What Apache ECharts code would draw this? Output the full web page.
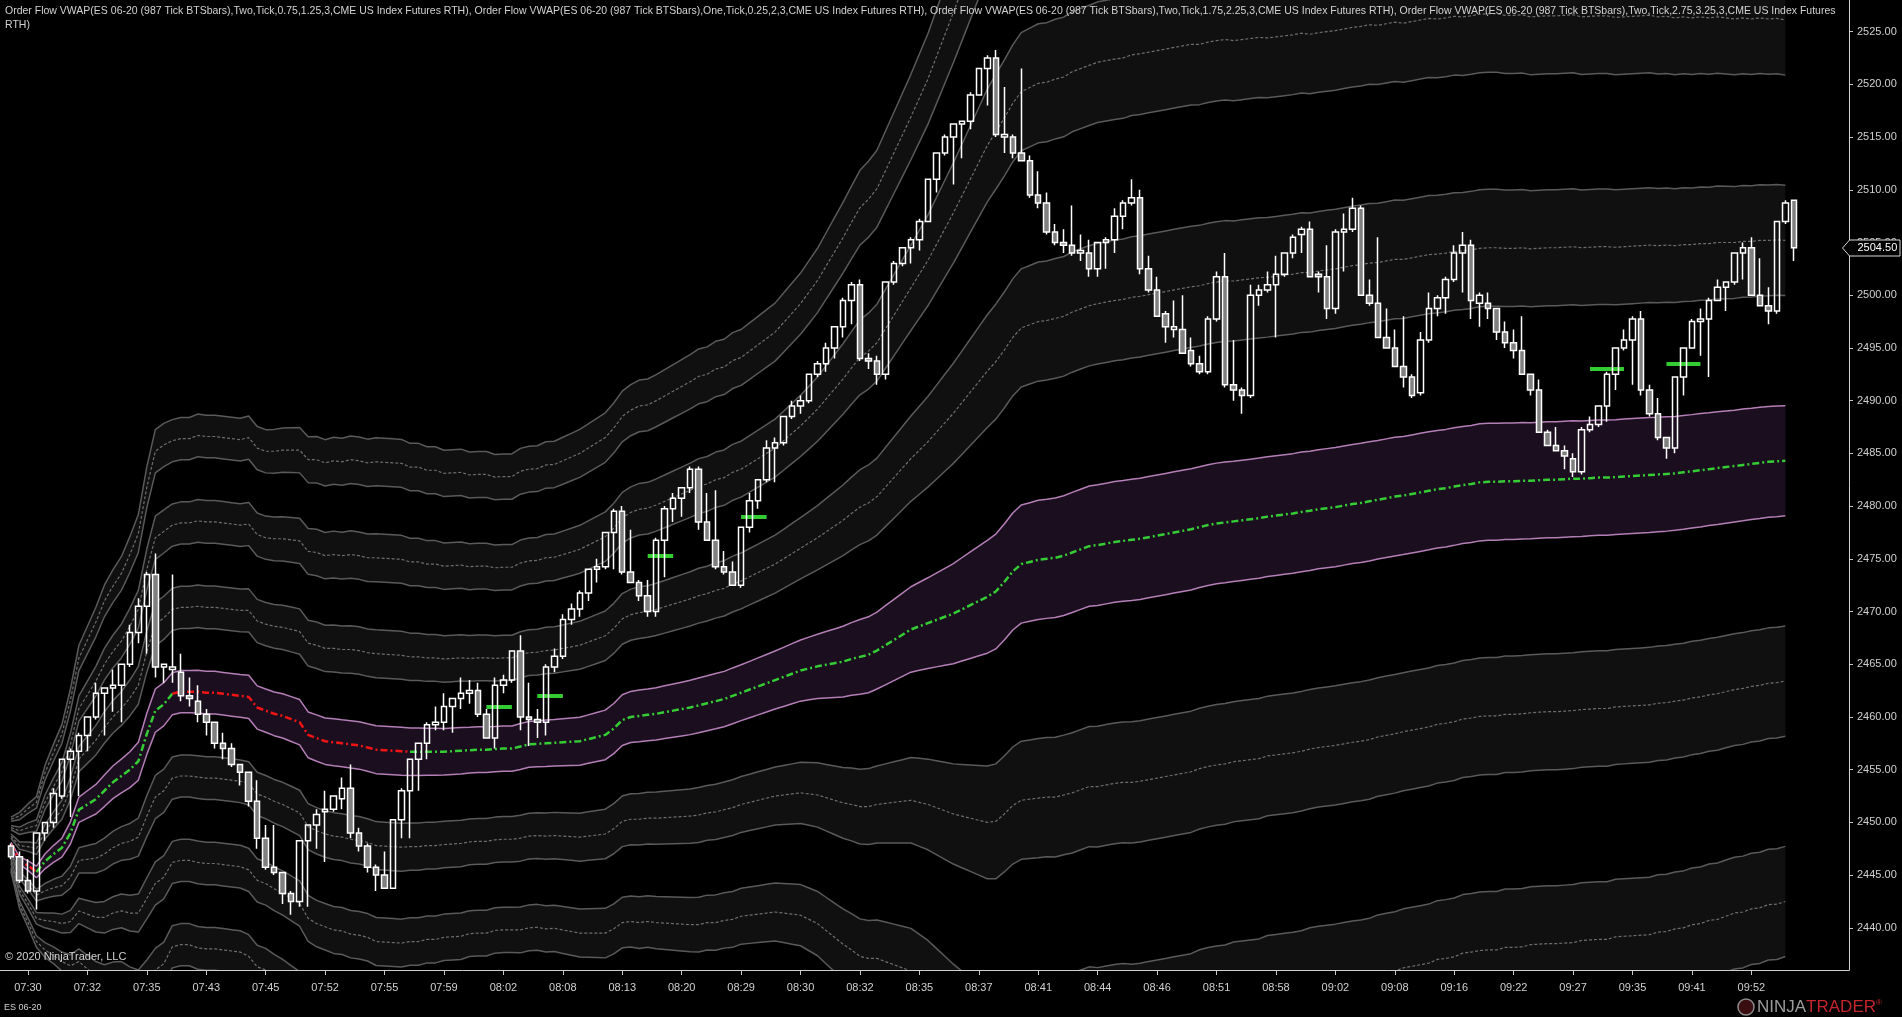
<!DOCTYPE html>
<html>
<head>
<meta charset="utf-8">
<title>ES 06-20 Order Flow VWAP</title>
<script src="https://cdn.jsdelivr.net/npm/echarts@6/dist/echarts.min.js"></script>
<style>
html,body{margin:0;padding:0;background:#000;overflow:hidden;}
#chart{width:1902px;height:1017px;}
</style>
</head>
<body>
<div id="chart"></div>
<script>
// ---------------- data ----------------
const timeLabels = ['07:30','07:32','07:35','07:43','07:45','07:52','07:55','07:59','08:02','08:08','08:13','08:20','08:29','08:30','08:32','08:35','08:37','08:41','08:44','08:46','08:51','08:58','09:02','09:08','09:16','09:22','09:27','09:35','09:41','09:52'];
const firstLabelBar = 2;
const barsPerLabel = 7;
const emptySlotsRight = 6;

const priceTicks = [2440,2445,2450,2455,2460,2465,2470,2475,2480,2485,2490,2495,2500,2505,2510,2515,2520,2525];
const priceMin = 2436;
const priceMax = 2528;

const opens = [
2447.75,2446.75,2444.5,2443.5,2449,2450,2452.5,2456,2456.75,2458.25,
2460,2462.25,2462.75,2463,2465,2468,2470.5,2473.5,2464.75,2464.5,
2464.25,2462,2461.5,2460.25,2459.5,2457.5,2457,2455.5,2454.75,2452,
2448.5,2445.75,2445.25,2443.25,2442.5,2448.25,2449.75,2451,2451.25,2452.25,
2453.25,2449,2447.75,2445.75,2445,2443.75,2450.25,2453,2456,2457.5,
2459.25,2459.5,2461,2461.75,2462.25,2462.5,2460.25,2458,2463,2463.5,
2466.25,2460,2459.75,2459.5,2464.75,2465.75,2469.25,2470.25,2471.75,2474,
2474.25,2477.5,2479.5,2473.75,2472.75,2471.5,2470,2476.75,2479.75,2480.75,
2481.75,2483.5,2478.5,2476.75,2474.25,2473.75,2472.5,2478,2480.5,2482.5,
2485.5,2486,2488.5,2489.5,2490,2492.5,2493.5,2495,2497,2499.5,
2501,2494,2493.75,2492.5,2501.25,2503,2504.5,2505.25,2507,2511,
2513.5,2515,2516.25,2516.5,2519,2521.5,2522.5,2515,2515,2513.5,
2512.75,2509.5,2508.75,2506,2505,2504.75,2504,2504,2502.5,2505,
2505.25,2507.5,2508.75,2509.25,2502.5,2500.5,2498.25,2496.75,2496.75,2494.75,
2493.5,2492.75,2497.75,2501.75,2491.5,2491,2490.5,2500,2500.5,2501,
2502,2504,2505.75,2506.25,2502,2501.75,2498.75,2506,2506.25,2508.25,
2500,2499.25,2496,2495,2493.25,2492.25,2490.75,2495.75,2498.75,2499.75,
2501.5,2504,2504.75,2499.25,2499.25,2498.75,2496.5,2495.5,2494.75,2492.5,
2491,2487,2485.75,2485.25,2484.5,2483.25,2487.25,2487.75,2489.5,2492.5,
2495,2495.75,2497.75,2491,2488.75,2486.5,2485.5,2492.25,2495,2497.5,
2497.75,2499.5,2500.75,2501.25,2504,2504.5,2500,2499,2498.5,2507,
2509];
const highs = [
2448,2447.25,2446.5,2449,2450,2453.25,2456,2457,2458.5,2460,
2463.25,2462.75,2464.5,2465,2468.75,2471.25,2473.75,2475.5,2465,2473.5,
2466,2463.75,2463,2460.75,2459.5,2458.5,2457.5,2455.5,2454.75,2454,
2449.75,2449.75,2445.25,2443.5,2448.25,2449.75,2451.25,2453,2452.5,2454.25,
2455.5,2449.5,2448,2446,2447.25,2450.25,2453.25,2456,2457.5,2459.5,
2461,2462.25,2461.75,2463.75,2463.5,2463.25,2460.75,2463.75,2464,2466.25,
2467.75,2463.25,2460.75,2465,2466.5,2469.75,2470.75,2472,2474,2475,
2477.5,2479.75,2480,2477.75,2473,2473,2477,2480,2481.25,2481.75,
2483.75,2483.75,2481.25,2481.5,2475.75,2474.75,2478,2481.25,2482.5,2486.25,
2486.5,2488.5,2490,2490.5,2492.5,2493.75,2495.5,2497,2499.75,2501.25,
2501.5,2494.5,2494.25,2501.25,2503.25,2504.5,2505.5,2507.25,2511,2513.5,
2515.25,2516.25,2516.5,2519.25,2521.5,2522.75,2523.25,2519.75,2515.25,2521.5,
2513.25,2511.75,2509.75,2506.75,2506.25,2508.5,2505.75,2505.25,2505,2505.5,
2508.25,2509,2511,2510,2503.75,2501.75,2498.5,2499.5,2500,2496,
2494.25,2498,2502.25,2504,2495.75,2491.25,2501,2501,2502.25,2503.75,
2504,2505.75,2506.5,2507,2502.25,2504.75,2506.25,2507.75,2509.25,2508.5,
2501.5,2505.5,2498.75,2496.75,2498,2492.5,2496.5,2500.25,2500,2501.75,
2504.75,2506,2505.25,2500.25,2500.25,2498.75,2497.5,2496.75,2498,2492.5,
2492,2487.25,2487.5,2485.75,2485,2487.5,2488.5,2489.5,2492.75,2495,
2496.75,2498,2498.5,2491.5,2490.25,2486.5,2492.25,2495,2497.75,2498.75,
2499.75,2501.5,2501.25,2504,2505,2505.5,2503.5,2500.75,2507,2509,
2509];
const lows = [
2446.5,2444.25,2443.25,2441.75,2448.25,2449.5,2452.25,2450.5,2452.5,2456.75,
2459.75,2458.25,2460.5,2459.5,2464.75,2467,2466,2463.75,2463.25,2463.25,
2461.5,2461,2459.5,2458.25,2457,2456,2455.25,2453.5,2451.5,2447.5,
2445.5,2445,2442.25,2441.25,2442,2442,2447.5,2446.25,2451,2451.25,
2448.5,2447.25,2445.25,2443.5,2443.75,2443.75,2448.5,2448.5,2453,2456,
2458.75,2458.75,2458.5,2460.75,2461.25,2460,2458,2457,2462.25,2463.25,
2458.75,2457.25,2458,2458.25,2464.25,2465.5,2468.75,2469.5,2471,2472.75,
2474,2474,2473.5,2472.75,2471,2469.5,2469.5,2473.25,2478.5,2479,
2481.25,2477.75,2476.75,2474,2473.5,2472.5,2472.25,2477.5,2479.75,2482.25,
2482.25,2485.75,2488.25,2488.75,2489.75,2492.25,2492.75,2494,2496,2497.25,
2493.75,2493,2491.5,2492,2501,2502.75,2503,2504.25,2507,2509.75,
2513.25,2510.5,2513,2515.75,2519,2518,2515,2513.5,2513,2512.75,
2509.25,2508.25,2505.75,2504.75,2504,2503.75,2503.25,2501.75,2501.75,2502.5,
2504,2506.25,2508.5,2502,2500.25,2498,2495.5,2496,2494.5,2493.25,
2492.5,2492.5,2497.5,2491.25,2490,2488.75,2490.25,2499,2500.25,2496,
2501.75,2503.5,2504,2501.75,2500.25,2497.75,2498.25,2502.25,2506,2500,
2499,2496,2495,2493.25,2491.25,2490.25,2490.5,2495.5,2498,2498.25,
2501.25,2500.25,2497.75,2497,2497.75,2495.75,2495,2494,2492.5,2490.5,
2487,2485.75,2485.25,2483.5,2482.75,2483,2487,2487.5,2488,2491,
2494.75,2491.5,2490.5,2488.5,2486.25,2484.5,2485,2490.5,2495,2494.25,
2492.25,2499.5,2498.5,2501,2501.5,2500,2499,2497.25,2498.25,2506.75,
2503.25];
const closes = [
2446.75,2444.5,2443.5,2449,2450,2452.75,2456,2456.75,2458.25,2460,
2462.25,2462.75,2463,2465,2468,2470.5,2473.5,2464.75,2465,2464.75,
2462,2461.75,2460.25,2459.5,2457.5,2457,2455.5,2454.75,2452,2448.5,
2445.75,2445.25,2443.25,2442.5,2448.25,2449.75,2450.75,2451.25,2452.5,2453.25,
2449,2447.75,2445.75,2445,2443.75,2450.25,2453,2456,2457.5,2459.25,
2459.5,2461,2461.75,2462.25,2462.5,2460.25,2458,2463,2463.5,2466.25,
2460,2459.75,2459.5,2464.75,2465.75,2469.25,2470.25,2471.75,2474,2474.25,
2477.5,2479.5,2473.75,2472.75,2471.5,2470,2476.75,2479.75,2480.75,2481.75,
2483.5,2478.5,2476.75,2474.25,2473.75,2472.5,2478,2480.5,2482.5,2485.5,
2486,2488.5,2489.5,2490,2492.5,2493.5,2495,2497,2499.5,2501,
2494,2493.75,2492.5,2501.25,2503,2504.5,2505.25,2507,2511,2513.5,
2515,2516.25,2516.5,2519,2521.5,2522.5,2515.25,2515.25,2513.5,2512.75,
2509.5,2508.75,2506,2505,2504.75,2504,2504.25,2502.5,2505,2505.25,
2507.5,2508.75,2509.25,2502.5,2500.5,2498,2497,2497,2494.5,2493.5,
2492.75,2497.75,2501.75,2491.5,2491,2490.5,2500,2500.5,2501,2502,
2504,2505.5,2506.25,2501.75,2501.75,2498.75,2506,2506.25,2508.25,2500,
2499.25,2496,2495,2493.25,2492.25,2490.5,2495.75,2498.75,2499.75,2501.5,
2504,2504.75,2499.5,2500,2498.75,2496.5,2495.5,2494.75,2492.5,2491,
2487,2485.75,2485.25,2484.75,2483.25,2487.25,2487.75,2489.5,2492.5,2495,
2495.75,2497.75,2491,2488.75,2486.5,2485.5,2492.25,2495,2497.5,2497.75,
2499.5,2500.75,2501.25,2504,2504.5,2500,2499,2498.5,2507,2508.75,
2504.5];

const vwap = [
2447.9,2446.4,2445.9,2445.3,2446.3,2447.0,2447.6,2449.0,2451.2,2451.7,
2452.2,2453.0,2453.8,2454.4,2455.0,2455.8,2458.4,2460.6,2461.2,2462.2,
2462.4,2462.4,2462.4,2462.3,2462.3,2462.2,2462.1,2462.0,2461.9,2460.9,
2460.6,2460.3,2460.1,2459.8,2459.5,2458.3,2458.0,2457.7,2457.6,2457.5,
2457.4,2457.3,2457.1,2456.9,2456.85,2456.8,2456.75,2456.7,2456.7,2456.7,
2456.7,2456.7,2456.75,2456.8,2456.85,2456.9,2456.9,2456.95,2457.0,2457.0,
2457.2,2457.4,2457.45,2457.5,2457.55,2457.6,2457.65,2457.7,2457.9,2458.1,
2458.3,2458.9,2459.7,2460.0,2460.1,2460.2,2460.3,2460.45,2460.6,2460.75,
2460.9,2461.1,2461.3,2461.5,2461.7,2462.0,2462.3,2462.6,2462.9,2463.2,
2463.5,2463.8,2464.1,2464.4,2464.6,2464.8,2464.95,2465.1,2465.25,2465.5,
2465.7,2465.9,2466.3,2466.8,2467.3,2467.8,2468.3,2468.6,2468.9,2469.2,
2469.5,2469.8,2470.2,2470.6,2471.0,2471.4,2471.9,2472.8,2473.8,2474.5,
2474.7,2474.9,2475.0,2475.1,2475.3,2475.6,2475.9,2476.2,2476.3,2476.45,
2476.6,2476.7,2476.8,2476.9,2477.05,2477.2,2477.35,2477.5,2477.65,2477.8,
2478.0,2478.2,2478.35,2478.45,2478.55,2478.65,2478.75,2478.85,2479.0,2479.1,
2479.2,2479.3,2479.45,2479.55,2479.7,2479.8,2479.9,2480.05,2480.2,2480.3,
2480.45,2480.6,2480.75,2480.9,2481.0,2481.15,2481.3,2481.45,2481.6,2481.7,
2481.85,2482.0,2482.1,2482.25,2482.3,2482.3,2482.35,2482.35,2482.4,2482.4,
2482.45,2482.5,2482.5,2482.55,2482.6,2482.6,2482.65,2482.7,2482.7,2482.75,
2482.8,2482.85,2482.9,2482.95,2483.0,2483.05,2483.1,2483.2,2483.3,2483.4,
2483.5,2483.6,2483.7,2483.8,2483.9,2484.0,2484.1,2484.2,2484.25,2484.3];
const sigma = [
0.4,0.7,0.9,1.1,1.4,1.6,1.8,2.1,2.4,2.6,
2.8,3.0,3.1,3.2,3.4,3.6,3.9,4.1,4.1,4.0,
4.0,4.0,4.05,4.05,4.05,4.05,4.05,4.05,4.1,4.1,
4.1,4.15,4.2,4.25,4.3,4.35,4.4,4.4,4.45,4.45,
4.5,4.5,4.5,4.55,4.55,4.55,4.55,4.5,4.5,4.45,
4.45,4.4,4.4,4.4,4.35,4.35,4.35,4.3,4.3,4.3,
4.35,4.35,4.35,4.4,4.4,4.45,4.5,4.55,4.6,4.65,
4.7,4.75,4.8,4.85,4.9,4.9,4.95,5.0,5.05,5.1,
5.15,5.2,5.2,5.25,5.25,5.3,5.3,5.35,5.4,5.45,
5.5,5.6,5.7,5.8,5.95,6.1,6.3,6.5,6.7,6.9,
7.1,7.2,7.3,7.5,7.7,7.9,8.1,8.35,8.6,8.9,
9.2,9.5,9.8,10.1,10.4,10.7,10.9,11.0,11.1,11.2,
11.25,11.3,11.3,11.35,11.35,11.4,11.4,11.4,11.45,11.45,
11.45,11.45,11.5,11.5,11.5,11.5,11.5,11.5,11.5,11.5,
11.45,11.45,11.45,11.45,11.4,11.4,11.4,11.4,11.35,11.35,
11.35,11.35,11.35,11.3,11.3,11.3,11.3,11.3,11.3,11.3,
11.3,11.25,11.25,11.25,11.2,11.2,11.2,11.2,11.15,11.15,
11.15,11.1,11.1,11.1,11.1,11.1,11.05,11.05,11.05,11.0,
11.0,11.0,11.0,11.0,11.0,10.95,10.95,10.95,10.95,10.9,
10.9,10.9,10.9,10.9,10.85,10.85,10.8,10.8,10.75,10.75,
10.7,10.7,10.65,10.6,10.6,10.55,10.55,10.5,10.5,10.45];

// bar ranges where the VWAP line is drawn red (falling)
const vwapFallingRanges = [[0, 3], [19, 47]];
// band multipliers of the indicators
const innerBand = 0.5;
const grayBands = [[1.5, 2, 2.5], [3.5, 4, 4.5], [5.5, 6, 6.5]];

// short green level markers: first bar, last bar, price
const markerFirstBar = [56, 62, 75, 86, 186, 195];
const markerLastBar  = [59, 65, 78, 89, 190, 199];
const markerPrice    = [2461.0, 2462.0, 2475.25, 2479.0, 2493.0, 2493.5];

const headerLine1 = 'Order Flow VWAP(ES 06-20 (987 Tick BTSbars),Two,Tick,0.75,1.25,3,CME US Index Futures RTH), Order Flow VWAP(ES 06-20 (987 Tick BTSbars),One,Tick,0.25,2,3,CME US Index Futures RTH), Order Flow VWAP(ES 06-20 (987 Tick BTSbars),Two,Tick,1.75,2.25,3,CME US Index Futures RTH), Order Flow VWAP(ES 06-20 (987 Tick BTSbars),Two,Tick,2.75,3.25,3,CME US Index Futures';
const headerLine2 = 'RTH)';
const copyrightText = '\u00A9 2020 NinjaTrader, LLC';
const instrumentText = 'ES 06-20';

// ---------------- build chart ----------------
const FONT = '"Liberation Sans", Arial, Helvetica, sans-serif';
const nBars = opens.length;
const categories = [];
for (let i = 0; i < nBars + emptySlotsRight; i++) categories.push(String(i));

function isLabelBar(idx) {
  const k = (idx - firstLabelBar) / barsPerLabel;
  return idx >= firstLabelBar && Number.isInteger(k) && k < timeLabels.length;
}
function labelFor(idx) {
  return isLabelBar(idx) ? timeLabels[(idx - firstLabelBar) / barsPerLabel] : '';
}
const level = k => vwap.map((v, i) => +(v + k * sigma[i]).toFixed(3));

const series = [];
function addFill(kLo, kHi, color, key) {
  const lo = level(kLo), hi = level(kHi);
  series.push({type: 'line', stack: key, data: lo, symbol: 'none', silent: true,
    lineStyle: {opacity: 0, width: 0}, z: 1});
  series.push({type: 'line', stack: key, data: hi.map((h, i) => +(h - lo[i]).toFixed(3)), symbol: 'none', silent: true,
    lineStyle: {opacity: 0, width: 0}, areaStyle: {color: color, opacity: 1}, z: 1});
}
function addLine(k, color, width, type) {
  series.push({type: 'line', data: level(k), symbol: 'none', silent: true,
    lineStyle: {color: color, width: width, type: type}, z: 2});
}

const grayFill = '#101010';
const purpleFill = '#1b0f1f';
addFill(-innerBand, innerBand, purpleFill, 'inner');
grayBands.forEach((b, j) => {
  addFill(b[0], b[2], grayFill, 'up' + j);
  addFill(-b[2], -b[0], grayFill, 'dn' + j);
});
grayBands.forEach(b => {
  [1, -1].forEach(s => {
    addLine(s * b[0], '#5a5a5a', 1.5, 'solid');
    addLine(s * b[1], '#6e6e6e', 1.2, [3, 2]);
    addLine(s * b[2], '#5a5a5a', 1.5, 'solid');
  });
});
addLine(innerBand, '#b47fb6', 1.5, 'solid');
addLine(-innerBand, '#b47fb6', 1.5, 'solid');

const inFalling = i => vwapFallingRanges.some(r => i >= r[0] && i <= r[1]);
const inFallingOpen = i => vwapFallingRanges.some(r => i > r[0] && i < r[1]);
series.push({type: 'line', data: vwap.map((v, i) => inFallingOpen(i) ? null : v), symbol: 'none', silent: true,
  connectNulls: false, lineStyle: {color: '#35cc35', width: 2.5, type: [7, 3, 2, 3]}, z: 3});
series.push({type: 'line', data: vwap.map((v, i) => inFalling(i) ? v : null), symbol: 'none', silent: true,
  connectNulls: false, lineStyle: {color: '#f01414', width: 2.5, type: [7, 3, 2, 3]}, z: 3});

const candles = opens.map((o, i) => [o, closes[i], lows[i], highs[i]]);
series.push({
  type: 'candlestick', data: candles, barWidth: 6, silent: true, z: 5,
  itemStyle: {color: 'rgba(0,0,0,0)', color0: '#808080', borderColor: '#ffffff', borderColor0: '#ffffff', borderWidth: 1.5},
  markLine: {
    silent: true, symbol: ['none', 'none'], animation: false, label: {show: false},
    lineStyle: {color: '#33cc33', width: 4, type: 'solid', opacity: 1},
    emphasis: {disabled: true},
    data: markerPrice.map((p, j) => [
      {coord: [String(markerFirstBar[j]), p]},
      {coord: [String(markerLastBar[j]), p]}
    ])
  }
});

const option = {
  backgroundColor: '#000000',
  animation: false,
  grid: {left: 6.75, right: 53, top: 0, bottom: 47},
  xAxis: {
    type: 'category', data: categories, boundaryGap: true,
    axisLine: {show: false},
    axisTick: {show: true, alignWithLabel: true, length: 5, interval: isLabelBar, lineStyle: {color: '#c8c8c8', width: 1}},
    axisLabel: {show: true, interval: isLabelBar, formatter: (v, i) => labelFor(i),
      color: '#d0d0d0', fontSize: 11, fontFamily: FONT, margin: 12},
    splitLine: {show: false}
  },
  yAxis: {
    type: 'value', position: 'right', min: priceMin, max: priceMax,
    axisLine: {show: false},
    axisTick: {show: true, length: 4, customValues: priceTicks, lineStyle: {color: '#c8c8c8', width: 1}},
    axisLabel: {show: true, customValues: priceTicks, formatter: v => Number(v).toFixed(2),
      color: '#d0d0d0', fontSize: 11, fontFamily: FONT, margin: 8},
    splitLine: {show: false}
  },
  series: series
};

const chart = echarts.init(document.getElementById('chart'), null, {renderer: 'canvas', width: 1902, height: 1017});
chart.setOption(option);

const gridRect = chart.getModel().getComponent('grid', 0).coordinateSystem.getRect();
const axisX = Math.round(gridRect.x + gridRect.width) + 0.5;
const axisY = Math.round(gridRect.y + gridRect.height) + 0.5;
const lastClose = closes[closes.length - 1];
const py = Math.round(chart.convertToPixel({yAxisIndex: 0}, lastClose));

chart.setOption({
  graphic: [
    {type: 'line', z: 100, silent: true, shape: {x1: 0, y1: axisY, x2: axisX, y2: axisY}, style: {stroke: '#cfcfcf', lineWidth: 1}},
    {type: 'line', z: 100, silent: true, shape: {x1: axisX, y1: 0, x2: axisX, y2: axisY}, style: {stroke: '#cfcfcf', lineWidth: 1}},
    {type: 'text', z: 100, silent: true, x: 5, y: 4,
      style: {text: headerLine1 + '\n' + headerLine2, fill: '#d2d2d2', fontSize: 10.5, fontFamily: FONT, lineHeight: 14, verticalAlign: 'top'}},
    {type: 'text', z: 100, silent: true, x: 5, y: 957,
      style: {text: copyrightText, fill: '#d2d2d2', fontSize: 11, fontFamily: FONT, verticalAlign: 'middle'}},
    {type: 'text', z: 100, silent: true, x: 4, y: 1008,
      style: {text: instrumentText, fill: '#d2d2d2', fontSize: 9, fontFamily: FONT, verticalAlign: 'middle'}},
    {type: 'circle', z: 100, silent: true, shape: {cx: 1746, cy: 1007, r: 8}, style: {fill: '#3a0d10', stroke: '#8a8a8a', lineWidth: 1.5}},
    {type: 'text', z: 100, silent: true, x: 1757, y: 1007,
      style: {text: '{a|NINJA}{b|TRADER}{c|\u00AE}', verticalAlign: 'middle',
        rich: {
          a: {fill: '#9c9c9c', fontSize: 17, fontFamily: FONT},
          b: {fill: '#c4262e', fontSize: 17, fontFamily: FONT},
          c: {fill: '#c4262e', fontSize: 8, fontFamily: FONT, verticalAlign: 'top'}
        }}},
    {type: 'polygon', z: 110, silent: true,
      shape: {points: [[axisX - 7, py], [axisX, py - 8], [1900, py - 8], [1900, py + 8], [axisX, py + 8]]},
      style: {fill: '#000000', stroke: '#d8d8d8', lineWidth: 1}},
    {type: 'text', z: 111, silent: true, x: axisX + 8, y: py,
      style: {text: lastClose.toFixed(2), fill: '#ffffff', fontSize: 11, fontFamily: FONT, verticalAlign: 'middle'}}
  ]
});
</script>
</body>
</html>
